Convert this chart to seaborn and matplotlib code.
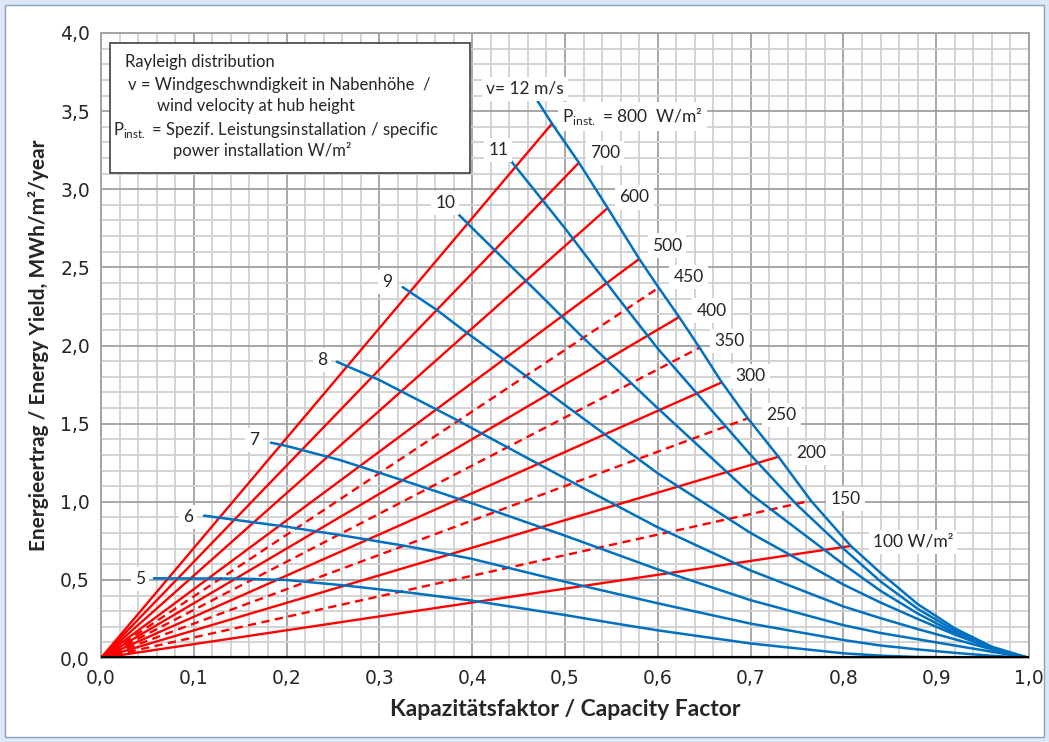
import matplotlib
matplotlib.use("Agg")
import matplotlib.pyplot as plt
import seaborn as sns
from matplotlib.ticker import MultipleLocator, FuncFormatter
from matplotlib.patches import Rectangle

# blue curves: energy yield vs capacity factor for wind velocity v at hub height
v5_cf = [0.057, 0.15, 0.2, 0.258, 0.333, 0.4, 0.5, 0.55, 0.6, 0.7, 0.8, 0.84, 0.88, 1.0]
v5_e = [0.51, 0.508, 0.499, 0.467, 0.418, 0.367, 0.275, 0.225, 0.177, 0.093, 0.03, 0.015, 0.006, 0.0]
v6_cf = [0.111, 0.2, 0.2575, 0.333, 0.4, 0.5, 0.6, 0.7, 0.8, 0.84, 0.88, 0.92, 0.96, 1.0]
v6_e = [0.911, 0.84, 0.787, 0.712, 0.634, 0.488, 0.35, 0.22, 0.115, 0.08, 0.055, 0.033, 0.014, 0.0]
v7_cf = [0.183, 0.2, 0.2575, 0.333, 0.4, 0.5, 0.6, 0.7, 0.8, 0.84, 0.88, 0.92, 0.96, 1.0]
v7_e = [1.378, 1.357, 1.267, 1.122, 0.99, 0.783, 0.567, 0.37, 0.21, 0.16, 0.12, 0.08, 0.04, 0.0]
v8_cf = [0.254, 0.3, 0.38, 0.4, 0.5, 0.6, 0.7, 0.8, 0.84, 0.88, 0.92, 0.96, 1.0]
v8_e = [1.896, 1.779, 1.534, 1.47, 1.15, 0.836, 0.56, 0.33, 0.255, 0.185, 0.12, 0.055, 0.0]
v9_cf = [0.325, 0.362, 0.394, 0.43, 0.5, 0.6, 0.7, 0.8, 0.84, 0.88, 0.92, 0.96, 1.0]
v9_e = [2.374, 2.227, 2.082, 1.928, 1.619, 1.182, 0.8, 0.47, 0.355, 0.25, 0.15, 0.06, 0.0]
v10_cf = [0.385, 0.478, 0.516, 0.6, 0.7, 0.8, 0.84, 0.88, 0.92, 0.96, 1.0]
v10_e = [2.84, 2.296, 2.07, 1.598, 1.05, 0.6, 0.43, 0.285, 0.16, 0.06, 0.0]
v11_cf = [0.441, 0.5, 0.5575, 0.6, 0.642, 0.7, 0.75, 0.8, 0.84, 0.88, 0.92, 0.96, 1.0]
v11_e = [3.187, 2.75, 2.302, 1.98, 1.694, 1.3, 0.98, 0.70, 0.49, 0.315, 0.175, 0.065, 0.0]
v12_cf = [0.468, 0.486, 0.515, 0.546, 0.58, 0.601, 0.623, 0.645, 0.669, 0.697,
          0.73, 0.765, 0.808, 0.84, 0.88, 0.92, 0.96, 1.0]
v12_e = [3.588, 3.42, 3.17, 2.88, 2.554, 2.37, 2.182, 1.986, 1.764, 1.534,
         1.288, 1.007, 0.717, 0.545, 0.345, 0.19, 0.072, 0.0]
v_labels = ["5", "6", "7", "8", "9", "10", "11", "v= 12 m/s"]

# red lines: specific power installation (W/m²), from origin to end point
p_inst = [100, 150, 200, 250, 300, 350, 400, 450, 500, 600, 700, 800]
p_end_cf = [0.808, 0.765, 0.730, 0.697, 0.669, 0.645, 0.623, 0.601, 0.580, 0.546, 0.515, 0.486]
p_end_e = [0.717, 1.007, 1.288, 1.534, 1.764, 1.986, 2.182, 2.370, 2.554, 2.880, 3.170, 3.420]
p_labels = ["100 W/m²", "150", "200", "250", "300", "350", "400", "450", "500", "600", "700",
            r"P$_{\mathrm{inst.}}$ = 800  W/m²"]

sns.set_style("white")
plt.rcParams["font.family"] = ["Lato", "DejaVu Sans"]
plt.rcParams["mathtext.fontset"] = "custom"
plt.rcParams["mathtext.rm"] = "Lato"

fig = plt.figure(figsize=(10.49, 7.42), dpi=100)
fig.patch.set_facecolor("#dce8f5")
fig.add_artist(Rectangle((5 / 1049, 5 / 742), 1 - 10 / 1049, 1 - 10 / 742, transform=fig.transFigure,
                         facecolor="white", edgecolor="#8aa2bd", lw=1, zorder=0))
ax = fig.add_axes([101 / 1049, 1 - 658 / 742, 928 / 1049, 625 / 742])

blue = "#0070c0"
red = "#ff0000"

for i, p in enumerate(p_inst):
    ls = (0, (3.5, 2.3)) if p in (150, 250, 350, 450) else "-"
    sns.lineplot(x=[0, p_end_cf[i]], y=[0, p_end_e[i]], ax=ax, color=red, lw=1.7,
                 linestyle=ls, estimator=None, sort=False, zorder=3)

blue_sets = [(v5_cf, v5_e), (v6_cf, v6_e), (v7_cf, v7_e), (v8_cf, v8_e),
             (v9_cf, v9_e), (v10_cf, v10_e), (v11_cf, v11_e), (v12_cf, v12_e)]
for cf, e in blue_sets:
    sns.lineplot(x=cf, y=e, ax=ax, color=blue, lw=1.8, estimator=None, sort=False, zorder=4)

ax.axhline(0, color="black", lw=3, zorder=6)

ax.set_xlim(0, 1.0)
ax.set_ylim(0, 4.0)
ax.xaxis.set_major_locator(MultipleLocator(0.1))
ax.xaxis.set_minor_locator(MultipleLocator(0.02))
ax.yaxis.set_major_locator(MultipleLocator(0.5))
ax.yaxis.set_minor_locator(MultipleLocator(0.1))
ax.grid(which="minor", color="#d0d0d0", lw=1.3, zorder=0)
ax.grid(which="major", color="#a0a0a0", lw=1.3, zorder=0)
ax.set_axisbelow(True)
comma = FuncFormatter(lambda val, pos: f"{val:.1f}".replace(".", ","))
ax.xaxis.set_major_formatter(comma)
ax.yaxis.set_major_formatter(comma)
ax.tick_params(which="both", length=0, labelsize=13.5, pad=8)
for lab in ax.get_xticklabels() + ax.get_yticklabels():
    lab.set_fontfamily("DejaVu Sans")
for s in ax.spines.values():
    s.set_color("#a0a0a0")
    s.set_linewidth(1.3)

ax.set_xlabel("Kapazitätsfaktor / Capacity Factor", fontsize=16.5, fontweight="bold", labelpad=8)
ax.set_ylabel("Energieertrag / Energy Yield, MWh/m²/year", fontsize=15, fontweight="bold", labelpad=8)

box = dict(facecolor="white", edgecolor="none", pad=3)
# velocity labels
v_pos = [(0.042, 0.506), (0.094, 0.904), (0.165, 1.395), (0.238, 1.907), (0.3085, 2.408),
         (0.371, 2.914), (0.428, 3.251), (0.457, 3.642)]
for lab, (x, y) in zip(v_labels, v_pos):
    ax.text(x, y, lab, ha="center", va="center", fontsize=12.5, bbox=box, zorder=7)
# power labels
p_pos = [(0.875, 0.744), (0.8025, 1.018), (0.765, 1.31), (0.7335, 1.555), (0.70, 1.805),
         (0.677, 2.029), (0.658, 2.223), (0.633, 2.44), (0.61, 2.639), (0.575, 2.948),
         (0.543, 3.234), (0.573, 3.464)]
for lab, (x, y) in zip(p_labels, p_pos):
    ax.text(x, y, lab, ha="center", va="center", fontsize=12.5, bbox=box, zorder=7)

# description box
ax.add_patch(Rectangle((0.0097, 3.105), 0.388, 0.83, facecolor="white", edgecolor="#404040",
                       lw=1.2, zorder=7))
desc = [(0.0226, 3.814, "Rayleigh distribution"),
        (0.0259, 3.667, "v = Windgeschwndigkeit in Nabenhöhe  /"),
        (0.0575, 3.533, "wind velocity at hub height"),
        (0.0097, 3.379, r"P$_{\mathrm{inst.}}$ = Spezif. Leistungsinstallation / specific"),
        (0.0744, 3.251, "power installation W/m²")]
for x, y, t in desc:
    ax.text(x + 0.003, y, t, ha="left", va="center", fontsize=12, zorder=8)

fig.savefig("out.png", dpi=100, facecolor=fig.get_facecolor())
